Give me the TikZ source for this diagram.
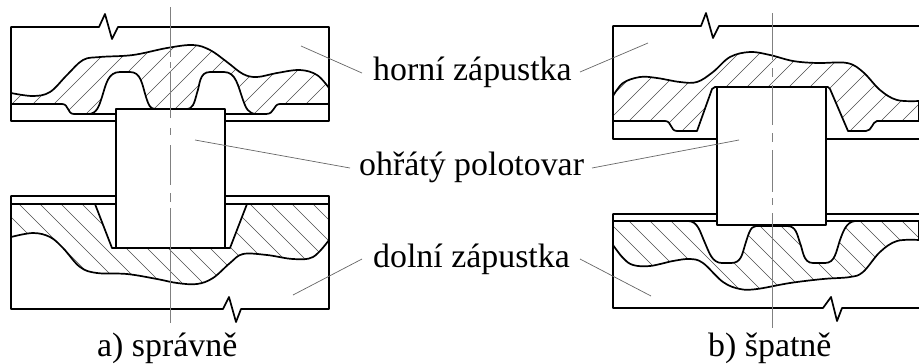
\documentclass[tikz,border=0pt]{standalone}
\usepackage{fontspec}
\setmainfont{Liberation Serif}
\tikzset{
  outline/.style={line width=1.7bp,line join=round},
  axisline/.style={line width=0.8bp,black!50},
  leader/.style={line width=0.7bp,black!60},
  hatchline/.style={line width=0.6bp,black!70},
  lbl/.style={inner sep=0pt,font=\fontsize{34}{36}\selectfont}
}
\newcommand{\lefttopface}{plot[smooth,tension=0.6] coordinates {(11,93) (33,96) (50,92) (67,75) (83,60) (100,57) (133,55) (167,48) (193,45) (210,50) (227,62) (243,74) (257,77) (277,73) (300,70) (317,75) (329,88)}
  -- (329,104) -- (280,104) .. controls (273,104) and (275,114) .. (266,114) -- (257,114) .. controls (248,114) and (246,108) .. (243,100) .. controls (238,86) and (236,72) .. (224,72) -- (210,72) .. controls (199,72) and (200,85) .. (197,93) .. controls (194,104) and (193,109) .. (186,109) -- (156,109) .. controls (150,109) and (149,106) .. (146,97) .. controls (142,84) and (141,72) .. (130,72) -- (120,72) .. controls (108,72) and (106,84) .. (102,97) .. controls (99,106) and (97,114) .. (88,114) -- (74,114) .. controls (67,114) and (69,104) .. (62,104) -- (11,104) -- cycle}
\newcommand{\leftbotface}{plot[smooth,tension=0.6] coordinates {(11,237) (33,233) (50,237) (63,248) (80,267) (97,273) (127,274) (157,279) (177,283) (197,284) (213,278) (230,263) (243,254) (267,255) (293,259) (313,257) (329,240)}
  -- (329,204) -- (247,204) -- (230,248) -- (112,248) -- (95,204) -- (11,204) -- cycle}
\newcommand{\righttopface}{plot[smooth,tension=0.6] coordinates {(613,96) (623,83) (640,77) (657,78) (680,82) (697,82) (713,72) (730,57) (750,52) (770,55) (793,61) (817,63) (847,63) (863,72) (880,90) (897,100) (919,101)}
  -- (919,121) -- (877,121) .. controls (872,122) and (872,131) .. (866,131) -- (848,131) -- (830,89) -- (828,87) -- (715,87) -- (712,89) -- (697,131) -- (677,131) .. controls (670,131) and (672,121) .. (665,121) -- (613,121) -- cycle}
\newcommand{\rightbotface}{plot[smooth,tension=0.6] coordinates {(613,245) (623,258) (633,265) (650,266) (673,261) (690,259) (703,263) (723,282) (740,289) (757,289) (790,283) (823,279) (850,277) (863,272) (880,252) (897,241) (919,240)}
  -- (919,221) -- (855,221) .. controls (846,222) and (843,232) .. (840,240) .. controls (836,252) and (835,263) .. (825,263) -- (813,263) .. controls (803,263) and (803,250) .. (800,243) .. controls (797,234) and (796,226) .. (787,226) -- (756,226) .. controls (750,226) and (748,236) .. (745,245) .. controls (742,255) and (741,263) .. (731,263) -- (722,263) .. controls (712,263) and (709,252) .. (705,243) .. controls (700,232) and (698,221) .. (688,221) -- (613,221) -- cycle}
\begin{document}
\begin{tikzpicture}[x=1bp,y=-1bp]
  \useasboundingbox (0,0) rectangle (919,363);
  % left pair of dies
  \begin{scope}
    \clip \lefttopface;
    \foreach \s in {-56,-35,...,480} {\draw[hatchline] (\s,130) -- ++(110,-110);}
  \end{scope}
  \begin{scope}
    \clip \leftbotface;
    \foreach \s in {-58,-37,...,400} {\draw[hatchline] (\s,190) -- ++(110,110);}
  \end{scope}
  \draw[outline] \lefttopface;
  \draw[outline] \leftbotface;
  \draw[outline] (116,121) -- (11,121) -- (11,27) -- (99,27) -- (105,14) -- (112,39) -- (118,27) -- (329,27) -- (329,121) -- (225,121);
  \draw[outline] (116,196) -- (11,196) -- (11,309) -- (223,309) -- (229,297) -- (236,322) -- (241,309) -- (329,309) -- (329,196) -- (225,196);
  \draw[outline] (74,114) -- (116,114) (225,114) -- (266,114);
  \draw[outline] (95,204) -- (116,204) (225,204) -- (247,204);
  \draw[outline,fill=white] (116,109) rectangle (225,248);
  \draw[axisline,dash pattern=on 50bp off 5bp on 6bp off 3bp on 47bp off 10bp on 7bp off 10bp on 40bp off 8bp on 9bp off 6bp on 115bp off 5bp] (170.5,7) -- (170.5,323);
  % right pair of dies
  \begin{scope}
    \clip \righttopface;
    \foreach \s in {558,579,...,1100} {\draw[hatchline] (\s,150) -- ++(110,-110);}
  \end{scope}
  \begin{scope}
    \clip \rightbotface;
    \foreach \s in {529,550,...,1000} {\draw[hatchline] (\s,205) -- ++(110,110);}
  \end{scope}
  \draw[outline] \righttopface;
  \draw[outline] \rightbotface;
  \draw[outline] (717,139) -- (613,139) -- (613,26) -- (701,26) -- (706,13) -- (713,38) -- (719,26) -- (919,26);
  \draw[outline] (826,139) -- (919,139);
  \draw[outline] (717,214) -- (613,214) -- (613,308) -- (823,308) -- (831,297) -- (837,321) -- (842,308) -- (919,308);
  \draw[outline] (826,214) -- (919,214);
  \draw[outline] (688,221) -- (717,221) (826,221) -- (855,221);
  \draw[outline,fill=white] (717,87) rectangle (826,225);
  \draw[axisline,dash pattern=on 47bp off 8bp on 9bp off 8bp on 40bp off 8bp on 9bp off 8bp on 42bp off 6bp on 7bp off 8bp on 115bp off 5bp] (772,13) -- (772,328);
  % labels
  \node[lbl,anchor=base west] (upper) at (373,80) {horní zápustka};
  \node[lbl,anchor=base west] (billet) at (359,175) {ohřátý polotovar};
  \node[lbl,anchor=base west] (lower) at (373,267) {dolní zápustka};
  \node[lbl,anchor=base west] (goodcap) at (97,356) {a) správně};
  \node[lbl,anchor=base west] (badcap) at (708,356) {b) špatně};
  % leaders
  \coordinate (upperL) at (301,46);
  \coordinate (upperLtxt) at (362,73);
  \coordinate (upperR) at (648,43);
  \coordinate (upperRtxt) at (580,72);
  \coordinate (billetL) at (195,140);
  \coordinate (billetLtxt) at (350,168);
  \coordinate (billetR) at (739,140);
  \coordinate (billetRtxt) at (592,168);
  \coordinate (lowerL) at (293,295);
  \coordinate (lowerLtxt) at (362,259);
  \coordinate (lowerR) at (651,296);
  \coordinate (lowerRtxt) at (580,259);
  \draw[leader] (upperL) -- (upperLtxt);
  \draw[leader] (upperR) -- (upperRtxt);
  \draw[leader] (billetL) -- (billetLtxt);
  \draw[leader] (billetR) -- (billetRtxt);
  \draw[leader] (lowerL) -- (lowerLtxt);
  \draw[leader] (lowerR) -- (lowerRtxt);
\end{tikzpicture}
\end{document}
